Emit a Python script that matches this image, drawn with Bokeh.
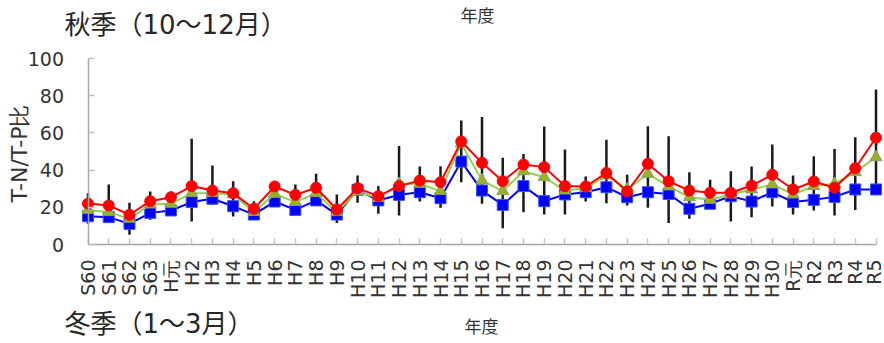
import math
from bokeh.plotting import figure
from bokeh.models import Range1d, FixedTicker, Label, ColumnDataSource
from bokeh.embed import file_html
from bokeh.resources import INLINE

# ---- data ----
years = ["S60", "S61", "S62", "S63", "H元", "H2", "H3", "H4", "H5", "H6", "H7", "H8", "H9",
         "H10", "H11", "H12", "H13", "H14", "H15", "H16", "H17", "H18", "H19", "H20", "H21",
         "H22", "H23", "H24", "H25", "H26", "H27", "H28", "H29", "H30", "R元", "R2", "R3", "R4", "R5"]
series_red = [22.0, 21.0, 16.0, 23.3, 25.4, 31.4, 29.0, 27.6, 19.2, 31.2, 26.7, 30.5, 18.8,
              30.3, 26.0, 31.4, 34.4, 33.5, 55.4, 43.9, 34.0, 43.0, 41.6, 31.4, 31.2,
              38.5, 28.5, 43.4, 34.0, 29.0, 27.8, 27.8, 31.7, 37.5, 29.6, 33.9, 30.5, 41.0, 57.4]
series_green = [18.6, 17.4, 13.8, 21.5, 21.9, 27.6, 27.6, 26.9, 17.4, 27.2, 22.8, 27.6, 17.4,
                28.5, 25.0, 32.6, 32.6, 28.7, 54.3, 34.4, 28.7, 39.4, 36.2, 29.0, 30.3,
                37.1, 29.6, 38.0, 31.2, 25.4, 24.0, 26.9, 29.6, 32.3, 26.9, 31.4, 32.6, 38.9, 46.9]
series_blue = [15.2, 14.7, 11.1, 17.0, 18.3, 22.8, 24.6, 20.6, 16.1, 23.1, 18.6, 23.7, 16.1,
               29.4, 23.7, 26.7, 28.1, 24.9, 44.6, 29.0, 21.3, 31.4, 23.3, 26.9, 28.1,
               30.8, 25.4, 28.1, 27.2, 19.2, 21.9, 26.0, 23.1, 28.1, 22.8, 24.0, 25.6, 29.6, 29.6]
range_max = [27.6, 32.3, 22.4, 28.5, 28.5, 56.8, 42.5, 34.0, 23.3, 34.0, 32.3, 38.0, 26.9,
             37.1, 31.4, 52.9, 41.9, 42.1, 66.7, 68.5, 46.6, 48.7, 63.4, 51.1, 36.6,
             56.3, 37.5, 63.6, 58.2, 38.9, 34.8, 39.4, 41.9, 53.8, 37.1, 47.5, 51.4, 57.7, 83.3]
range_min = [11.1, 12.0, 5.2, 13.3, 16.1, 12.4, 21.3, 15.1, 13.8, 20.1, 16.1, 21.0, 11.5,
             22.4, 16.5, 15.6, 23.1, 19.7, 33.5, 21.9, 8.8, 17.4, 16.1, 16.1, 23.1,
             22.2, 21.0, 19.7, 11.5, 13.8, 19.2, 12.4, 14.7, 20.4, 16.1, 18.3, 15.6, 18.6, 28.0]
y_ticks = [0, 20, 40, 60, 80, 100]

title_top = "秋季（10～12月）"
title_bottom = "冬季（1～3月）"
x_title = "年度"
y_title = "T-N/T-P比"

n = len(years)
idx = list(range(n))
src = ColumnDataSource(dict(x=idx, red=series_red, green=series_green, blue=series_blue,
                            hi=range_max, lo=range_min))

# canvas geometry (pixels): the frame covers the whole canvas, axes sit at data 0
W, H = 884, 343
X0_PX, XN_PX = 87.5, 875.5      # first / last category position
Y0_PX, Y100_PX = 244.0, 58.0    # value 0 / value 100 position
sx = (XN_PX - X0_PX) / (n - 1)
sy = (Y0_PX - Y100_PX) / 100.0


def dx(px):
    return (px - X0_PX) / sx


def dy(py):
    return (Y0_PX - py) / sy


p = figure(width=W, height=H, output_backend="svg", toolbar_location=None,
           x_range=Range1d(dx(0), dx(W)), y_range=Range1d(dy(H), dy(0)),
           min_border=0, min_border_left=0, min_border_right=0,
           min_border_top=0, min_border_bottom=0)
p.outline_line_color = None
p.xgrid.visible = False
p.ygrid.visible = False
p.background_fill_color = "white"
p.border_fill_color = "white"

axis_col = "#a6a6a6"
tick_col = "#c0c0c0"
lab_font = "DejaVu Sans"

# y axis
p.yaxis.fixed_location = 0
p.yaxis.bounds = (0, 100)
p.yaxis.ticker = FixedTicker(ticks=y_ticks)
p.yaxis.axis_line_color = axis_col
p.yaxis.axis_line_width = 1.5
p.yaxis.major_tick_line_color = tick_col
p.yaxis.major_tick_line_width = 1.5
p.yaxis.major_tick_in = 6
p.yaxis.major_tick_out = 0
p.yaxis.minor_tick_line_color = None
p.yaxis.major_label_standoff = 24
p.yaxis.major_label_text_font = lab_font
p.yaxis.major_label_text_font_size = "19px"
p.yaxis.major_label_text_color = "#333333"

# x axis
p.xaxis.fixed_location = 0
p.xaxis.ticker = FixedTicker(ticks=idx)
p.xaxis.major_label_overrides = {i: s for i, s in enumerate(years)}
p.xaxis.bounds = (0, n - 1)
p.xaxis.axis_line_color = axis_col
p.xaxis.axis_line_width = 1.5
p.xaxis.major_tick_line_color = tick_col
p.xaxis.major_tick_line_width = 1.5
p.xaxis.major_tick_in = 6
p.xaxis.major_tick_out = 0
p.xaxis.minor_tick_line_color = None
p.xaxis.major_label_orientation = math.pi / 2
p.xaxis.major_label_standoff = 15
p.xaxis.major_label_text_font = lab_font
p.xaxis.major_label_text_font_size = "19px"
p.xaxis.major_label_text_color = "#333333"

# range bars
p.segment(x0="x", y0="lo", x1="x", y1="hi", source=src, line_color="#1a1a1a", line_width=2.5)

# series
p.line("x", "blue", source=src, line_color="#0000ff", line_width=2)
p.scatter("x", "blue", source=src, marker="square", size=11, fill_color="#0000ff",
          line_color="#3355ee", line_width=1)
p.line("x", "green", source=src, line_color="#92d050", line_width=2)
p.scatter("x", "green", source=src, marker="triangle", size=12, fill_color="#99b31f",
          line_color="#8c9a7a", line_width=1)
p.line("x", "red", source=src, line_color="#ff0000", line_width=2)
p.scatter("x", "red", source=src, marker="circle", size=11, fill_color="#ff0000",
          line_color="#ff0000", line_width=1)

cjk = "Noto Sans CJK JP"
mixed = "'DejaVu Sans', 'Noto Sans CJK JP'"
p.add_layout(Label(x=dx(64), y=dy(24), text=title_top, text_font=mixed, text_font_size="26px",
                   text_color="#262626", text_baseline="middle", text_align="left"))
p.add_layout(Label(x=dx(477), y=dy(14), text=x_title, text_font=cjk, text_font_size="17px",
                   text_color="#333333", text_baseline="middle", text_align="center"))
p.add_layout(Label(x=dx(64), y=dy(323), text=title_bottom, text_font=mixed, text_font_size="26px",
                   text_color="#262626", text_baseline="middle", text_align="left"))
p.add_layout(Label(x=dx(481), y=dy(325), text=x_title, text_font=cjk, text_font_size="17px",
                   text_color="#333333", text_baseline="middle", text_align="center"))
p.add_layout(Label(x=dx(19), y=dy(153), text=y_title, text_font=lab_font, text_font_size="22px",
                   text_color="#333333", text_baseline="middle", text_align="center",
                   angle=math.pi / 2))

open("out.html", "w").write(file_html(p, INLINE))
